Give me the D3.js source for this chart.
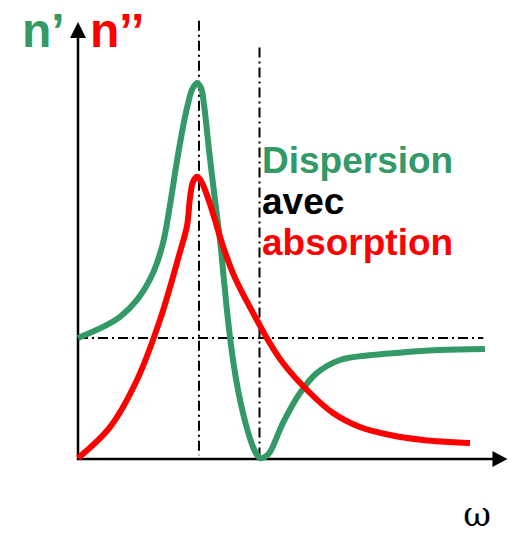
<!DOCTYPE html>
<html>
<head>
<meta charset="utf-8">
<script src="https://cdn.jsdelivr.net/npm/d3@7"></script>
<style>
  html, body { margin: 0; padding: 0; background: #fff; }
  svg { display: block; }
</style>
</head>
<body>
<svg id="chart" width="512" height="535"></svg>
<script>
// ---- Data (ω in units where ω0 = 2, n' vacuum level = 1) ----
const omegaDispersion = [0, 0.413, 0.694, 0.975, 1.240, 1.405, 1.521, 1.620, 1.736, 1.818, 1.884, 1.967, 2.033, 2.083, 2.165, 2.264, 2.347, 2.413, 2.479, 2.562, 2.645, 2.727, 2.810, 2.893, 2.959, 3.008, 3.091, 3.174, 3.388, 3.669, 3.950, 4.331, 4.876, 5.438, 5.983, 6.727];
const nPrime          = [1.000, 1.091, 1.174, 1.314, 1.537, 1.785, 2.099, 2.413, 2.744, 2.934, 3.050, 3.107, 3.066, 2.926, 2.554, 2.140, 1.810, 1.479, 1.149, 0.818, 0.570, 0.380, 0.223, 0.099, 0.033, 0.008, 0.017, 0.058, 0.298, 0.545, 0.711, 0.818, 0.860, 0.884, 0.901, 0.909];

const omegaAbsorption = [0, 0.529, 0.975, 1.355, 1.686, 1.802, 1.851, 1.901, 1.967, 2.033, 2.099, 2.182, 2.264, 2.347, 2.446, 2.595, 2.760, 2.975, 3.140, 3.388, 3.785, 4.215, 4.661, 5.157, 5.702, 6.479];
const nSecond         = [0.008, 0.264, 0.653, 1.149, 1.711, 1.926, 2.157, 2.289, 2.331, 2.298, 2.223, 2.107, 1.975, 1.835, 1.686, 1.496, 1.331, 1.132, 0.983, 0.793, 0.570, 0.380, 0.264, 0.198, 0.157, 0.132];

const omegaResonance = [2, 3];      // ω0 and ω at n' minimum
const nVacuum = 1;
const textLines = ["Dispersion", "avec", "absorption"];
const axisLabelY = ["n\u2019", "n\u2019\u2019"];
const axisLabelX = "\u03C9";

const GREEN = "#339966", RED = "#ff0000";

// ---- Scales ----
const x = d3.scaleLinear().domain([0, 7]).range([78, 501.5]);
const y = d3.scaleLinear().domain([0, 3.61]).range([459, 22]);

const svg = d3.select("#chart");

// dash-dot guide lines
const dash = "10,4,2,4";
svg.append("line")
  .attr("x1", x(0)).attr("x2", x(6.7))
  .attr("y1", y(nVacuum)).attr("y2", y(nVacuum))
  .attr("stroke", "#000").attr("stroke-width", 2).attr("stroke-dasharray", dash);
svg.append("line")
  .attr("x1", x(omegaResonance[0])).attr("x2", x(omegaResonance[0]))
  .attr("y1", y(3.62)).attr("y2", y(0.03))
  .attr("stroke", "#000").attr("stroke-width", 2).attr("stroke-dasharray", dash);
svg.append("line")
  .attr("x1", x(omegaResonance[1])).attr("x2", x(omegaResonance[1]))
  .attr("y1", y(3.4)).attr("y2", y(0))
  .attr("stroke", "#000").attr("stroke-width", 2).attr("stroke-dasharray", dash);

// axes
svg.append("line")
  .attr("x1", x(0)).attr("x2", x(0))
  .attr("y1", y(0) + 1).attr("y2", y(3.61) + 12)
  .attr("stroke", "#000").attr("stroke-width", 2.5);
svg.append("path")
  .attr("d", `M${x(0)},${y(3.61)} L${x(0) - 8},${y(3.61) + 16} L${x(0) + 8},${y(3.61) + 16} Z`)
  .attr("fill", "#000");
svg.append("line")
  .attr("x1", x(0) - 1).attr("x2", x(6.9))
  .attr("y1", y(0)).attr("y2", y(0))
  .attr("stroke", "#000").attr("stroke-width", 2.5);
svg.append("path")
  .attr("d", `M${x(6.85)},${y(0) - 8} L${x(6.85) + 15},${y(0)} L${x(6.85)},${y(0) + 8} Z`)
  .attr("fill", "#000");

// curves
const line = d3.line().x(d => x(d[0])).y(d => y(d[1])).curve(d3.curveCatmullRom.alpha(0.5));
svg.append("path")
  .datum(omegaDispersion.map((w, i) => [w, nPrime[i]]))
  .attr("d", line).attr("fill", "none")
  .attr("stroke", GREEN).attr("stroke-width", 6);
svg.append("path")
  .datum(omegaAbsorption.map((w, i) => [w, nSecond[i]]))
  .attr("d", line).attr("fill", "none")
  .attr("stroke", RED).attr("stroke-width", 6);

// labels
const sans = "'Liberation Sans', Arial, sans-serif";
svg.append("text").attr("x", 22).attr("y", 47)
  .attr("font-family", sans).attr("font-weight", "bold").attr("font-size", 48)
  .attr("fill", GREEN).text(axisLabelY[0]);
svg.append("text").attr("x", 90).attr("y", 47)
  .attr("font-family", sans).attr("font-weight", "bold").attr("font-size", 48)
  .attr("fill", RED).text(axisLabelY[1]);

const colors = [GREEN, "#000", RED];
const baselines = [173, 214, 255];
textLines.forEach((t, i) => {
  svg.append("text").attr("x", 262).attr("y", baselines[i])
    .attr("font-family", sans).attr("font-weight", "bold").attr("font-size", 37)
    .attr("fill", colors[i]).text(t);
});

svg.append("text").attr("x", 477).attr("y", 526).attr("text-anchor", "middle")
  .attr("font-family", "'DejaVu Serif', 'Liberation Serif', serif").attr("font-size", 34)
  .attr("fill", "#000").text(axisLabelX);
</script>
</body>
</html>
